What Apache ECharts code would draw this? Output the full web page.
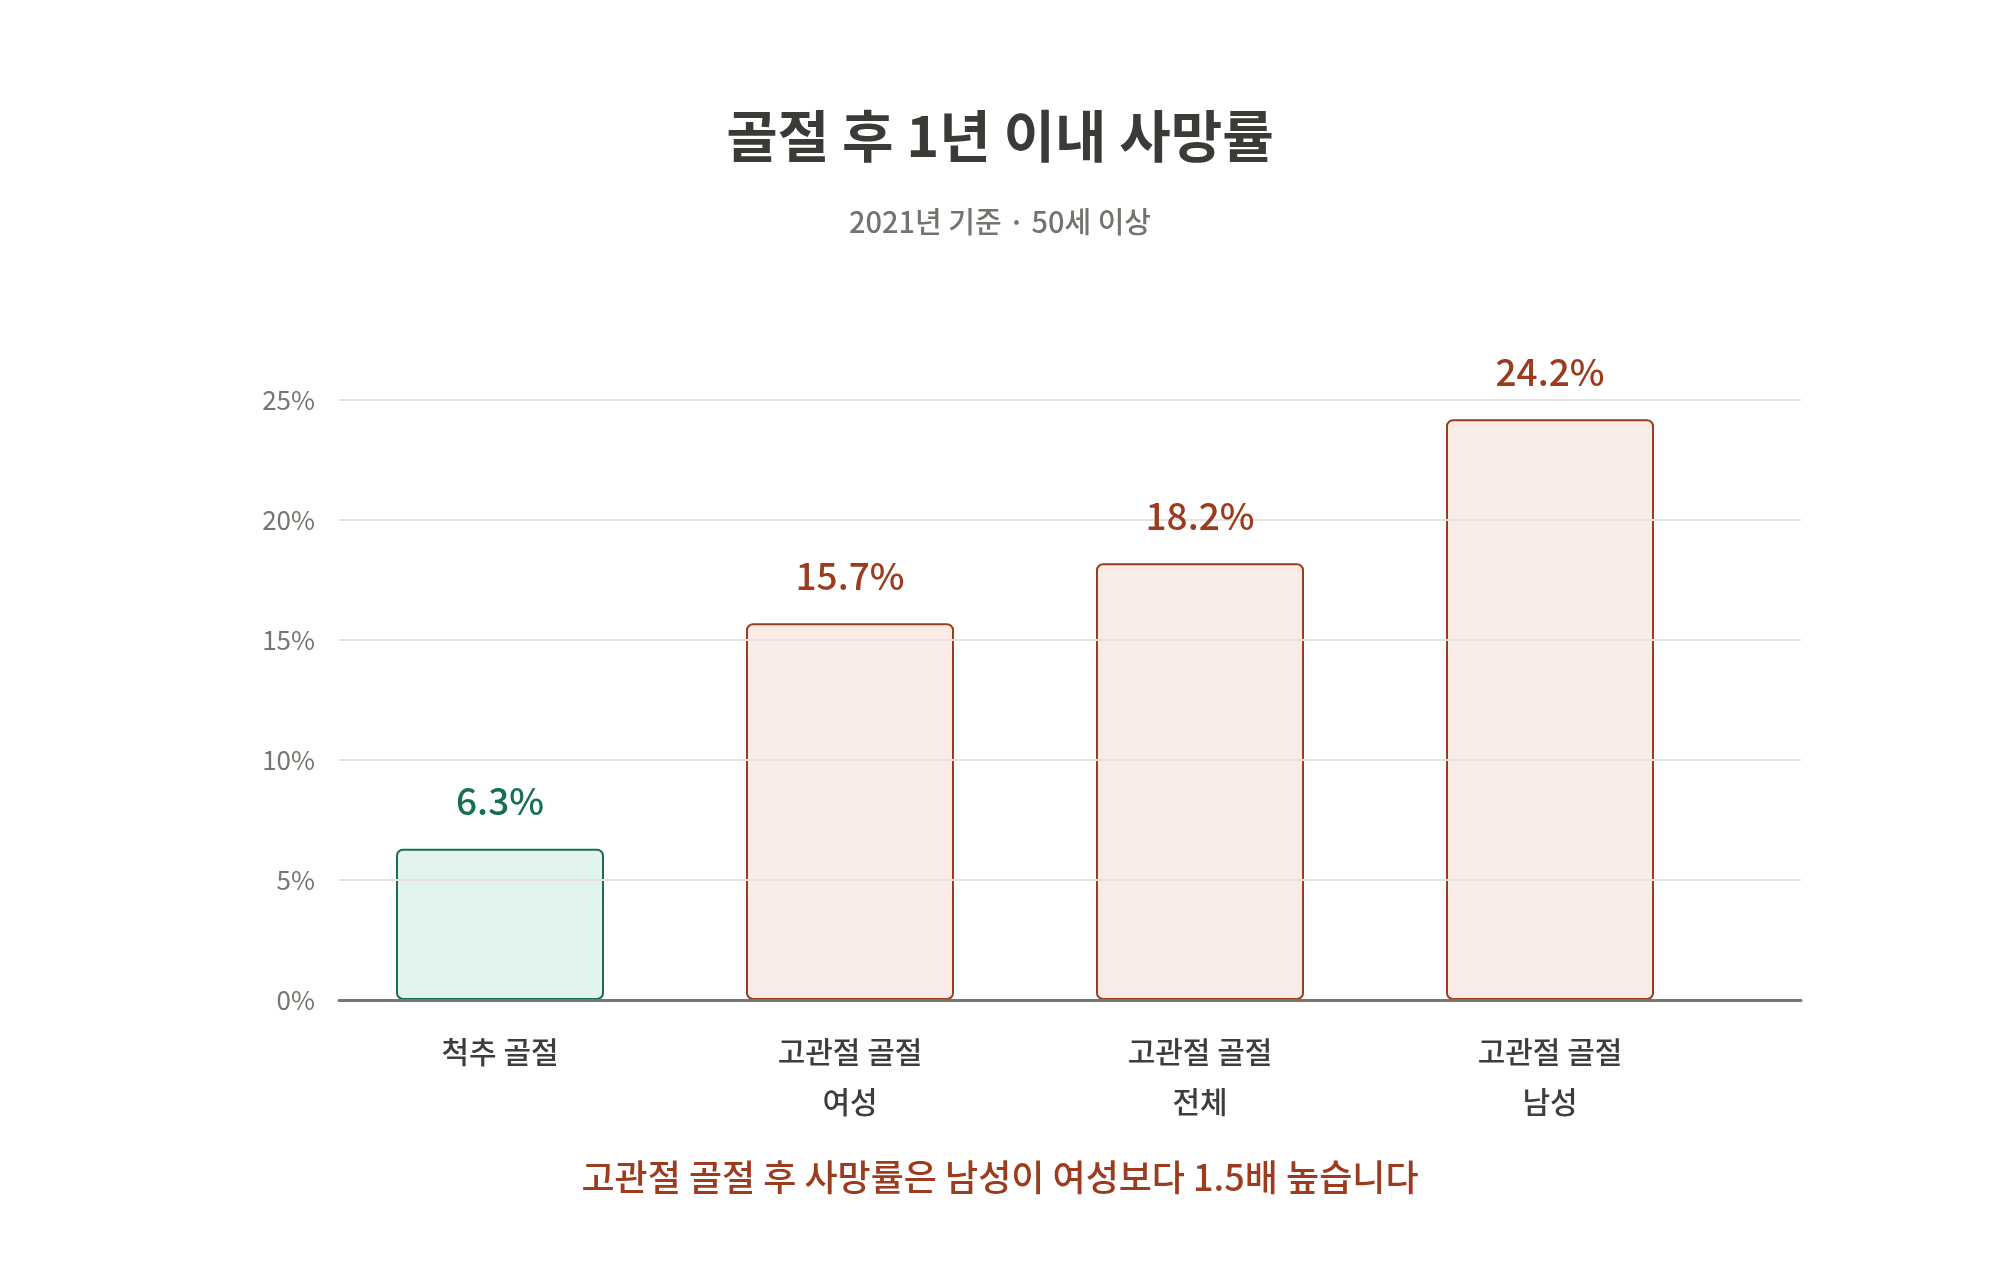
<!DOCTYPE html>
<html>
<head>
    <meta charset="UTF-8">
    <title>골절 후 1년 이내 사망률</title>
    <script src="https://cdn.jsdelivr.net/npm/echarts@6/dist/echarts.min.js"></script>
    <style>
        html, body { margin: 0; padding: 0; background: #ffffff; }
        #chart { width: 2000px; height: 1280px; }
    </style>
</head>
<body>
    <div id="chart"></div>
    <script>
        // data
        const categories = ['척추 골절', '고관절 골절\n여성', '고관절 골절\n전체', '고관절 골절\n남성'];
        const groups = ['spine', 'hip', 'hip', 'hip'];
        const rates = [6.3, 15.7, 18.2, 24.2];
        const yTicks = [0, 5, 10, 15, 20, 25];

        const FONT = '"Noto Sans CJK KR", "Noto Sans", sans-serif';
        const palette = {
            spine: { border: '#16704f', fill: '#e1f3ec' },
            hip: { border: '#9c3b1d', fill: '#f9ece7' }
        };

        const yMin = yTicks[0];
        const yMax = yTicks[yTicks.length - 1];
        const yStep = yTicks[1] - yTicks[0];

        const chart = echarts.init(document.getElementById('chart'));
        chart.setOption({
            backgroundColor: '#ffffff',
            animation: false,
            title: [
                {
                    text: '골절 후 1년 이내 사망률',
                    left: 'center', top: 103,
                    textStyle: { fontFamily: FONT, fontSize: 56, fontWeight: 700, color: '#3b3a36' }
                },
                {
                    text: '2021년 기준 · 50세 이상',
                    left: 'center', top: 202,
                    textStyle: { fontFamily: FONT, fontSize: 29, fontWeight: 500, color: '#75736d' }
                },
                {
                    text: '고관절 골절 후 사망률은 남성이 여성보다 1.5배 높습니다',
                    left: 'center', top: 1154,
                    textStyle: { fontFamily: FONT, fontSize: 36, fontWeight: 500, color: '#9c3b1d' }
                }
            ],
            grid: [
                { left: 339, right: 199, top: 400, bottom: 280 },
                { left: 325, right: 275, top: 400, bottom: 280 }
            ],
            xAxis: [
                {
                    gridIndex: 0, type: 'category', data: [''], z: 6,
                    axisLine: { show: true, lineStyle: { color: '#77766f', width: 3 } },
                    axisTick: { show: false },
                    axisLabel: { show: false }
                },
                {
                    gridIndex: 1, type: 'category', data: categories,
                    axisLine: { show: false },
                    axisTick: { show: false },
                    axisLabel: {
                        margin: 27,
                        fontFamily: FONT, fontSize: 30, fontWeight: 500,
                        color: '#3d3d3a', lineHeight: 50
                    }
                }
            ],
            yAxis: [
                {
                    gridIndex: 0, type: 'value', min: yMin, max: yMax, interval: yStep, z: 5,
                    axisLine: { show: false },
                    axisTick: { show: false },
                    axisLabel: {
                        margin: 24,
                        fontFamily: FONT, fontSize: 26, color: '#77756f',
                        formatter: '{value}%'
                    },
                    splitLine: { lineStyle: { color: '#e6e2dc', width: 2 } }
                },
                {
                    gridIndex: 1, type: 'value', min: yMin, max: yMax, interval: yStep,
                    show: false,
                    splitLine: { show: false }
                }
            ],
            series: [
                {
                    // the bars, sitting under the grid lines
                    type: 'bar',
                    xAxisIndex: 1,
                    yAxisIndex: 1,
                    barWidth: 208,
                    z: 2,
                    data: rates.map((v, i) => {
                        const c = palette[groups[i]];
                        return {
                            value: v,
                            itemStyle: { color: c.fill, borderColor: c.border, borderWidth: 2, borderRadius: 6 }
                        };
                    })
                },
                {
                    // invisible copy that carries the value labels above the grid lines
                    type: 'bar',
                    xAxisIndex: 1,
                    yAxisIndex: 1,
                    barWidth: 208,
                    barGap: '-100%',
                    z: 10,
                    silent: true,
                    itemStyle: { color: 'transparent' },
                    data: rates.map((v, i) => ({
                        value: v,
                        label: { color: palette[groups[i]].border }
                    })),
                    label: {
                        show: true,
                        position: 'top',
                        distance: 29,
                        fontFamily: FONT, fontSize: 37, fontWeight: 500,
                        formatter: p => p.value.toFixed(1) + '%'
                    }
                }
            ]
        });
    </script>
</body>
</html>
